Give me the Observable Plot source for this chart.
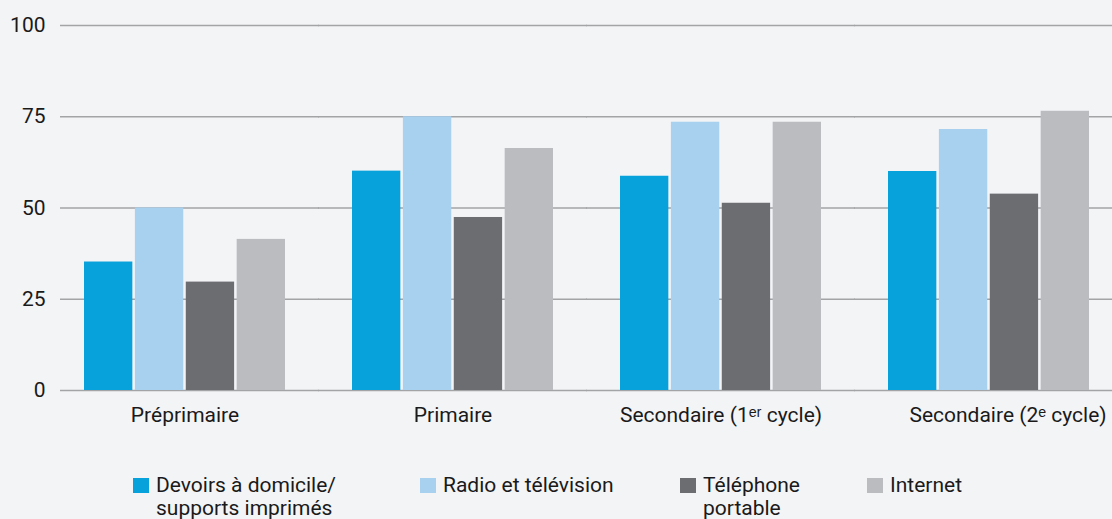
<!DOCTYPE html>
<html>
<head>
<meta charset="utf-8">
<script src="https://cdn.jsdelivr.net/npm/d3@7"></script>
<script src="https://cdn.jsdelivr.net/npm/@observablehq/plot@0.6"></script>
<style>
  html, body { margin: 0; padding: 0; background: #f3f4f6; }
  body { width: 1112px; height: 519px; overflow: hidden; font-family: Roboto, "Noto Sans", sans-serif; }
  #chart svg { display: block; }
  #chart svg text { font-size: 21px; fill: #1a1a1a; }
  #legend { position: relative; height: 79px; }
  .item { position: absolute; top: 34px; display: flex; align-items: flex-start; font-size: 21px; line-height: 23px; color: #1a1a1a; }
  .sw { width: 16px; height: 15px; margin-top: 4px; margin-right: 7px; flex: none; }
</style>
</head>
<body>
<div id="chart"></div>
<div id="legend"></div>
<script>
const groups = ["Préprimaire", "Primaire", "Secondaire (1ᵉʳ cycle)", "Secondaire (2ᵉ cycle)"];
const series = ["Devoirs à domicile/\nsupports imprimés", "Radio et télévision", "Téléphone\nportable", "Internet"];
const colors = ["#07a1dc", "#a8d0ef", "#6c6d71", "#bbbcc0"];
const devoirs = [35.2, 60.1, 58.7, 60.0];
const radio = [50.0, 75.0, 73.5, 71.5];
const telephone = [29.7, 47.4, 51.3, 53.8];
const internet = [41.4, 66.3, 73.5, 76.5];
const yTicks = [0, 25, 50, 75, 100];

const valuesBySeries = [devoirs, radio, telephone, internet];
const data = [];
groups.forEach((g, gi) => {
  series.forEach((s, si) => {
    data.push({group: g, series: s, value: valuesBySeries[si][gi]});
  });
});
const grid = [];
groups.forEach(g => yTicks.forEach(t => grid.push({group: g, y: t})));

const chart = Plot.plot({
  width: 1112,
  height: 440,
  marginLeft: 60,
  marginRight: 0,
  marginTop: 25,
  marginBottom: 50,
  style: {background: "#f3f4f6", fontFamily: "Roboto, sans-serif", fontSize: "21px", color: "#1a1a1a"},
  fx: {domain: groups, paddingInner: 0.25, paddingOuter: 0.085, label: null},
  x: {domain: series, paddingInner: 0.05, paddingOuter: 0, round: false, axis: null},
  y: {domain: [0, 100], ticks: yTicks, label: null, tickSize: 0, tickPadding: 39},
  color: {domain: series, range: colors},
  marks: [
    Plot.ruleY(grid.filter(d => d.group === groups[0]), {fx: "group", y: "y", stroke: "#a3a4a6", strokeWidth: 1.5, insetLeft: -24, insetRight: -34}),
    Plot.ruleY(grid.filter(d => d.group !== groups[0]), {fx: "group", y: "y", stroke: "#a3a4a6", strokeWidth: 1.5, insetLeft: -34, insetRight: -34}),
    Plot.barY(data, {fx: "group", x: "series", y: "value", fill: "series"}),
    Plot.axisFx({ticks: groups.slice(0, 3), anchor: "bottom", tickSize: 0, tickPadding: 17, label: null}),
    Plot.axisFx({ticks: groups.slice(3), anchor: "bottom", tickSize: 0, tickPadding: 17, label: null, dx: 19})
  ]
});
document.getElementById("chart").appendChild(chart);

const legend = document.getElementById("legend");
const lefts = [133, 420, 680, 867];
series.forEach((s, i) => {
  const item = document.createElement("div");
  item.className = "item";
  item.style.left = lefts[i] + "px";
  const sw = document.createElement("div");
  sw.className = "sw";
  sw.style.background = colors[i];
  const t = document.createElement("div");
  t.innerHTML = s.split("\n").join("<br>");
  item.appendChild(sw);
  item.appendChild(t);
  legend.appendChild(item);
});
</script>
</body>
</html>
